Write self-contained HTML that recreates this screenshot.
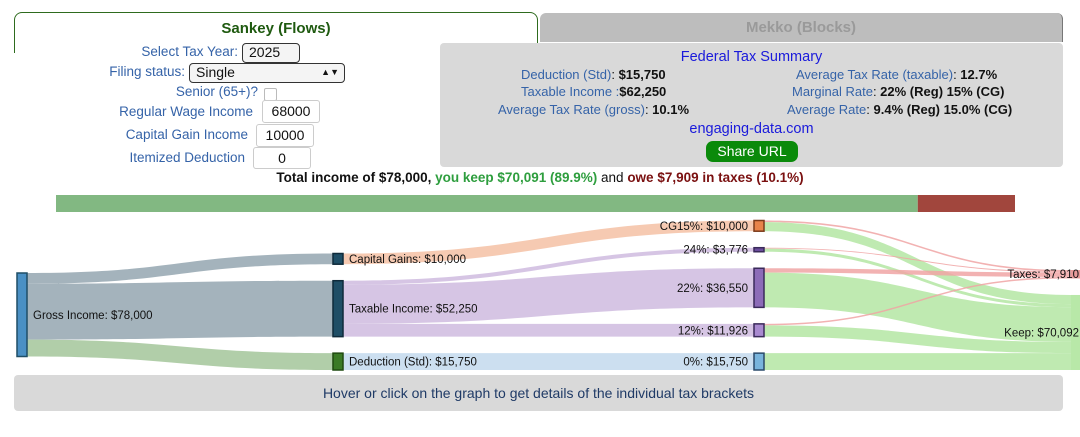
<!DOCTYPE html>
<html><head><meta charset="utf-8">
<style>
body{margin:0;width:1080px;height:437px;background:#fff;font-family:"Liberation Sans",Arial,sans-serif;position:relative;overflow:hidden}
.abs{position:absolute}
.lbl{position:absolute;color:#3563a8;font-size:13.5px;text-align:right;white-space:nowrap}
.inp{position:absolute;border:1px solid #ccc;border-radius:3px;background:#fff;font-size:14px;text-align:center;box-sizing:border-box;line-height:20px;color:#111}
.sel{position:absolute;border:1px solid #333;border-radius:4px;background:#f4f4f4;font-size:14px;box-sizing:border-box;padding-left:6px;line-height:17px;color:#111}
.row{position:absolute;font-size:13px;white-space:nowrap;color:#111}
.row span.k{color:#3563a8}
.row b{color:#111}
</style></head><body>
<div class="abs" style="left:14px;top:12px;width:522px;height:40px;border:1.5px solid #2e6b1e;border-bottom:none;border-radius:8px 8px 0 0;text-align:center;font-weight:bold;color:#1f5a10;font-size:15px;line-height:32px">Sankey (Flows)</div>
<div class="abs" style="left:540px;top:13px;width:522px;height:29px;background:#bdbdbd;border-radius:6px 6px 0 0;border-right:1.5px solid #777;text-align:center;font-weight:bold;color:#9a9a9a;font-size:15px;line-height:29px">Mekko (Blocks)</div>

<div class="lbl" style="right:842px;top:44px">Select Tax Year:</div>
<div class="sel" style="left:242px;top:43px;width:58px;height:20px">2025 <span style="float:right;padding-right:5px;font-size:9px">▲▼</span></div>
<div class="lbl" style="right:895px;top:64px">Filing status:</div>
<div class="sel" style="left:189px;top:63px;width:156px;height:20px">Single<span style="float:right;padding-right:5px;font-size:9px">▲▼</span></div>
<div class="lbl" style="right:822px;top:84px">Senior (65+)?</div>
<div class="abs" style="left:264px;top:88px;width:11px;height:11px;border:1px solid #bbb;border-radius:2px"></div>
<div class="lbl" style="right:827px;top:104px">Regular Wage Income</div>
<div class="inp" style="left:262px;top:100px;width:58px;height:23px">68000</div>
<div class="lbl" style="right:832px;top:127px">Capital Gain Income</div>
<div class="inp" style="left:256px;top:124px;width:58px;height:23px">10000</div>
<div class="lbl" style="right:835px;top:150px">Itemized Deduction</div>
<div class="inp" style="left:253px;top:147px;width:58px;height:22px">0</div>

<div class="abs" style="left:440px;top:43px;width:623px;height:124px;background:#d9d9d9;border-radius:4px">
  <div class="abs" style="left:0;width:623px;top:6px;text-align:center;color:#1a1adb;font-size:14.5px">Federal Tax Summary</div>
  <div class="row" style="left:81px;top:24px"><span class="k">Deduction (Std)</span>: <b>$15,750</b></div>
  <div class="row" style="left:81px;top:41px"><span class="k">Taxable Income :</span><b>$62,250</b></div>
  <div class="row" style="left:58px;top:59px"><span class="k">Average Tax Rate (gross)</span>: <b>10.1%</b></div>
  <div class="row" style="left:356px;top:24px"><span class="k">Average Tax Rate (taxable)</span>: <b>12.7%</b></div>
  <div class="row" style="left:352px;top:41px"><span class="k">Marginal Rate</span>: <b>22% (Reg) 15% (CG)</b></div>
  <div class="row" style="left:347px;top:59px"><span class="k">Average Rate</span>: <b>9.4% (Reg) 15.0% (CG)</b></div>
  <div class="abs" style="left:0;width:623px;top:78px;text-align:center;color:#1a1adb;font-size:14.5px">engaging-data.com</div>
  <div class="abs" style="left:266px;top:98px;width:92px;height:21px;background:#0a8a0a;border-radius:7px;color:#fff;font-size:14px;text-align:center;line-height:21px">Share URL</div>
</div>

<div class="abs" style="left:0;width:1080px;top:170px;text-align:center;font-size:13.5px;font-weight:bold;color:#111">Total income of $78,000, <span style="color:#2e9e3e">you keep $70,091 (89.9%)</span> <span style="font-weight:normal">and</span> <span style="color:#7a1010">owe $7,909 in taxes (10.1%)</span></div>

<svg class="abs" style="left:0;top:0" width="1080" height="437">
<g id="bar"></g><g id="links"></g><g id="nodes"></g><g id="labels"></g>
</svg>

<div class="abs" style="left:14px;top:375px;width:1049px;height:36px;background:#d9d9d9;border-radius:4px;text-align:center;line-height:36px;color:#1f3a66;font-size:14px">Hover or click on the graph to get details of the individual tax brackets</div>

<script>
const keepTotal = 70091;
const taxTotal = 7909;
const nodeNames = ["Gross Income","Capital Gains","Taxable Income","Deduction (Std)","CG15%","24%","22%","12%","0%","Taxes","Keep"];
const nodeValues = [78000,10000,52250,15750,10000,3776,36550,11926,15750,7910,70092];
const nodeColumns = [0,1,1,1,2,2,2,2,2,3,3];
const linkSources = [0,0,0,1,2,2,2,3,4,4,5,5,6,6,7,7,8];
const linkTargets = [1,2,3,4,5,6,7,8,9,10,9,10,9,10,9,10,10];
const linkValues = [10000,52250,15750,10000,3776,36550,11926,15750,1500,8500,906,2870,4073,32477,1431,10495,15750];

const NS="http://www.w3.org/2000/svg";
function mk(t,a,p){const e=document.createElementNS(NS,t);for(const k in a)e.setAttribute(k,a[k]);p.appendChild(e);return e;}
const bx0=56,bx1=1015,bw=bx1-bx0;
const sx=v=>bx0+v/(keepTotal+taxTotal)*bw;
const gb=document.getElementById('bar');
let r=mk('rect',{x:bx0,y:195,width:sx(keepTotal)-bx0,height:17,fill:'#82b882'},gb);


r=mk('rect',{x:sx(keepTotal),y:195,width:bx1-sx(keepTotal),height:17,fill:'#a1463d'},gb);



const k=83.5/78000, pad=16.5, bottom=370;
const colX=[17,333,754,1071], nw=10;
const nodeFill=['#4a90c4','#1f4e66','#1f4e66','#3a7a25','#e8834a','#6a4c9c','#8c6bb8','#a98ad0','#78b4dc','#e89a9a','#b8e8a8'];
const nodeStroke=['#1f4e66','#0f2a3a','#0f2a3a','#1f4a10','#7a3a1a','#3a2a5a','#3a2a5a','#3a2a5a','#2a4a6a','none','none'];
const N=nodeNames.map((n,i)=>({i,h:nodeValues[i]*k,col:nodeColumns[i],outY:0,inY:0}));
for(let c=0;c<4;c++){
  const ns=N.filter(n=>n.col===c);
  const tot=ns.reduce((s,n)=>s+n.h,0)+pad*(ns.length-1);
  let y = c===0 ? 273 : bottom-tot;
  ns.forEach(n=>{n.y=y;n.outY=y;n.inY=y;y+=n.h+pad;});
}
const linkColor=(s,t)=>t===3?'#a9c9a0':s===0?'#9aabb5':s===1?'#f5c4aa':s<=2?'#d1bfe1':s===3?'#c7dcee':t===9?'#f0a4a4':'#b8e8a8';
const gl=document.getElementById('links');
const order=linkValues.map((v,i)=>i).sort((a,b)=>N[linkSources[a]].y-N[linkSources[b]].y);
const outs={},ins={};
linkValues.forEach((v,i)=>{const s=N[linkSources[i]];outs[i]=s.outY;s.outY+=v*k;});
order.forEach(i=>{const t=N[linkTargets[i]];ins[i]=t.inY;t.inY+=linkValues[i]*k;});
linkValues.forEach((v,i)=>{
  const s=N[linkSources[i]],t=N[linkTargets[i]],h=v*k;
  const x0=colX[s.col]+nw,x1=colX[t.col],xm=(x0+x1)/2;
  const y0=outs[i],y1=ins[i];
  const d=`M${x0},${y0}C${xm},${y0} ${xm},${y1} ${x1},${y1}L${x1},${y1+h}C${xm},${y1+h} ${xm},${y0+h} ${x0},${y0+h}Z`;
  const p=mk('path',{d,fill:linkColor(linkSources[i],linkTargets[i]),opacity:linkTargets[i]===9?0.85:0.9},gl);
  
  
});
const gn=document.getElementById('nodes'),gt=document.getElementById('labels');
const fmt=v=>'$'+v.toLocaleString('en-US');
N.forEach(n=>{
  const rr=mk('rect',{x:colX[n.col],y:n.y,width:nw,height:Math.max(n.h,1),fill:nodeFill[n.i],stroke:nodeStroke[n.i],'stroke-width':1.5},gn);
  
  
  const left=n.col>=2;
  const tx=n.col===3?1079:left?colX[n.col]-6:colX[n.col]+nw+6;
  const t=mk('text',{x:tx,y:n.y+n.h/2+4,'font-size':11.5,fill:'#111','text-anchor':left?'end':'start','font-family':'Liberation Sans, Arial, sans-serif'},gt);
  t.textContent=nodeNames[n.i]+': '+fmt(nodeValues[n.i]);
  
  
});
</script>
</body></html>
